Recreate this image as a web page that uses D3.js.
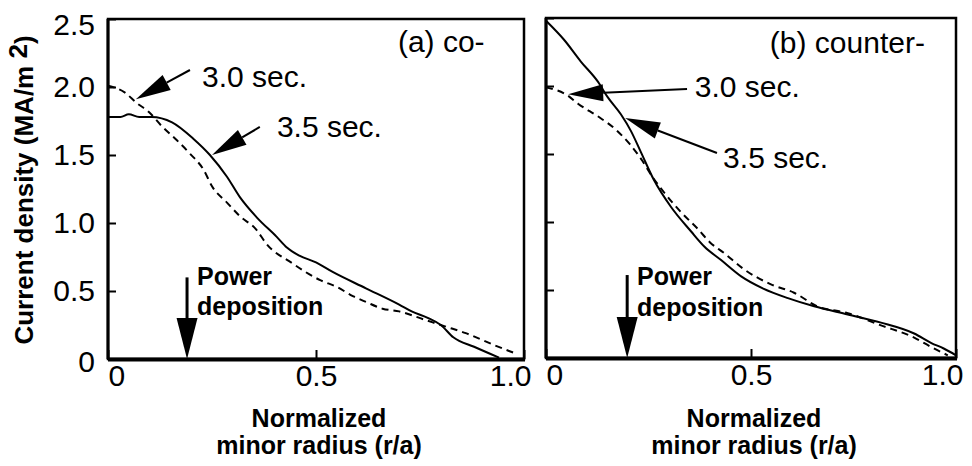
<!DOCTYPE html>
<html>
<head>
<meta charset="utf-8">
<script src="https://cdn.jsdelivr.net/npm/d3@7"></script>
<style>
  html, body { margin: 0; padding: 0; background: #fff; }
  svg { display: block; }
  text { font-family: "Liberation Sans", Arial, Helvetica, sans-serif; fill: #000; }
</style>
</head>
<body>
<svg id="chart" width="972" height="466"></svg>
<script>
// ---------------- DATA ----------------
// Panel (a) co- : 3.5 sec (solid)
const rCo35 = [0, 0.03, 0.05, 0.075, 0.105, 0.154, 0.205, 0.245, 0.286, 0.317, 0.358, 0.405, 0.43, 0.46, 0.5, 0.54, 0.62, 0.70, 0.73, 0.77, 0.80, 0.83, 0.88, 0.94];
const jCo35 = [1.78, 1.78, 1.80, 1.78, 1.78, 1.74, 1.62, 1.50, 1.34, 1.19, 1.04, 0.90, 0.82, 0.76, 0.71, 0.64, 0.52, 0.40, 0.35, 0.30, 0.25, 0.16, 0.09, 0.01];
// Panel (a) co- : 3.0 sec (dashed)
const rCo30 = [0, 0.04, 0.07, 0.097, 0.13, 0.165, 0.197, 0.23, 0.25, 0.286, 0.317, 0.357, 0.38, 0.44, 0.51, 0.55, 0.59, 0.62, 0.66, 0.70, 0.76, 0.81, 0.86, 0.93, 0.98];
const jCo30 = [2.01, 1.96, 1.88, 1.82, 1.71, 1.61, 1.51, 1.39, 1.27, 1.15, 1.05, 0.95, 0.85, 0.71, 0.58, 0.53, 0.46, 0.42, 0.37, 0.35, 0.29, 0.24, 0.19, 0.10, 0.04];
// Panel (b) counter- : 3.5 sec (solid)
const rCtr35 = [0, 0.044, 0.085, 0.127, 0.15, 0.183, 0.207, 0.232, 0.263, 0.305, 0.354, 0.386, 0.427, 0.476, 0.53, 0.59, 0.654, 0.736, 0.817, 0.898, 0.94, 0.97, 1.0];
const jCtr35 = [2.48, 2.34, 2.18, 2.03, 1.92, 1.79, 1.67, 1.51, 1.31, 1.11, 0.93, 0.82, 0.72, 0.60, 0.51, 0.44, 0.38, 0.32, 0.26, 0.18, 0.11, 0.07, 0.02];
// Panel (b) counter- : 3.0 sec (dashed)
const rCtr30 = [0, 0.053, 0.078, 0.13, 0.17, 0.205, 0.235, 0.26, 0.29, 0.33, 0.37, 0.40, 0.435, 0.484, 0.55, 0.605, 0.662, 0.736, 0.817, 0.898, 0.94, 0.98];
const jCtr30 = [1.99, 1.93, 1.87, 1.77, 1.68, 1.57, 1.45, 1.33, 1.21, 1.07, 0.95, 0.85, 0.77, 0.65, 0.54, 0.48, 0.38, 0.33, 0.24, 0.15, 0.08, 0.02];

const yTicks = [0, 0.5, 1.0, 1.5, 2.0, 2.5];
const yTickLabels = ["0", "0.5", "1.0", "1.5", "2.0", "2.5"];
const xTicks = [0, 0.5, 1.0];
const xTickLabels = ["0", "0.5", "1.0"];
const panelTitles = ["(a) co-", "(b) counter-"];
const yTitle = "Current density (MA/m ";
const xTitle1 = "Normalized";
const xTitle2 = "minor radius (r/a)";
const timeLabels = ["3.0 sec.", "3.5 sec."];
const powerLabels = ["Power", "deposition"];

// annotation anchors (data units: r, j)
const coAnno = {
  title: [0.697, 2.257],
  t30: { text: [0.226, 2.0], from: [0.197, 2.125], tip: [0.067, 1.91] },
  t35: { text: [0.406, 1.63], from: [0.365, 1.706], tip: [0.25, 1.50] },
  power: { r: 0.19, top: 0.60, text: [0.214, 0.544], text2: 0.32 }
};
const ctrAnno = {
  title: [0.546, 2.24],
  t30: { text: [0.363, 1.92], from: [0.344, 1.978], tip: [0.054, 1.94] },
  t35: { text: [0.432, 1.40], from: [0.417, 1.507], tip: [0.193, 1.765] },
  power: { r: 0.198, top: 0.61, text: [0.222, 0.537], text2: 0.31 }
};

// ---------------- DRAW ----------------
const svg = d3.select("#chart");

const panels = [
  { x0: 108, x1: 524, y0: 359, y1: 19, solid: [rCo35, jCo35], dashed: [rCo30, jCo30], anno: coAnno, title: panelTitles[0], yLabels: true },
  { x0: 546, x1: 956, y0: 358, y1: 18, solid: [rCtr35, jCtr35], dashed: [rCtr30, jCtr30], anno: ctrAnno, title: panelTitles[1], yLabels: false }
];

function arrow(g, S, T, L, w, sw) {
  const dx = T[0] - S[0], dy = T[1] - S[1];
  const len = Math.hypot(dx, dy);
  const ux = dx / len, uy = dy / len;
  const bx = T[0] - ux * L, by = T[1] - uy * L;
  const nx = -uy, ny = ux;
  g.append("line").attr("x1", S[0]).attr("y1", S[1]).attr("x2", bx).attr("y2", by)
    .attr("stroke", "#000").attr("stroke-width", sw);
  g.append("path")
    .attr("d", `M${T[0]},${T[1]}L${bx + nx * w},${by + ny * w}L${bx - nx * w},${by - ny * w}Z`)
    .attr("fill", "#000");
}

panels.forEach(p => {
  const x = d3.scaleLinear().domain([0, 1]).range([p.x0, p.x1]);
  const y = d3.scaleLinear().domain([0, 2.5]).range([p.y0, p.y1]);
  const g = svg.append("g");

  // y axis (inward ticks)
  const yAxis = d3.axisLeft(y).tickValues(yTicks).tickSize(-8).tickPadding(13)
    .tickFormat((d, i) => p.yLabels ? yTickLabels[i] : "");
  const ya = g.append("g").attr("transform", `translate(${p.x0},0)`).call(yAxis);
  ya.select(".domain").remove();
  ya.selectAll(".tick line").attr("stroke", "#000").attr("stroke-width", 2);
  ya.selectAll(".tick text").attr("font-size", 30).attr("font-family", null)
    .attr("y", d => d === 2.5 ? 6 : (d === 0 ? 3 : 0));

  // x axis (inward ticks)
  const xAxis = d3.axisBottom(x).tickValues(xTicks).tickSize(-9).tickPadding(6)
    .tickFormat((d, i) => xTickLabels[i]);
  const xa = g.append("g").attr("transform", `translate(0,${p.y0})`).call(xAxis);
  xa.select(".domain").remove();
  xa.selectAll(".tick line").attr("stroke", "#000").attr("stroke-width", 2);
  xa.selectAll(".tick text").attr("font-size", 30).attr("font-family", null)
    .attr("text-anchor", d => d === 0 ? "start" : (d === 1 ? "end" : "middle"))
    .attr("x", d => d === 1 ? 7 : 0);

  // frame
  g.append("rect").attr("x", p.x0).attr("y", p.y1).attr("width", p.x1 - p.x0).attr("height", p.y0 - p.y1)
    .attr("fill", "none").attr("stroke", "#000").attr("stroke-width", 2.5);
  g.append("line").attr("x1", p.x0).attr("x2", p.x1 + 1).attr("y1", p.y0 + 0.5).attr("y2", p.y0 + 0.5)
    .attr("stroke", "#000").attr("stroke-width", 4);
  g.append("line").attr("x1", p.x0).attr("x2", p.x0).attr("y1", p.y1).attr("y2", p.y0)
    .attr("stroke", "#000").attr("stroke-width", 3);

  // curves
  const line = d3.line().x(d => x(d[0])).y(d => y(d[1])).curve(d3.curveMonotoneX);
  const solidData = p.solid[0].map((r, i) => [r, p.solid[1][i]]);
  const dashedData = p.dashed[0].map((r, i) => [r, p.dashed[1][i]]);
  g.append("path").datum(dashedData).attr("d", line).attr("fill", "none")
    .attr("stroke", "#000").attr("stroke-width", 2).attr("stroke-dasharray", "7,5");
  g.append("path").datum(solidData).attr("d", line).attr("fill", "none")
    .attr("stroke", "#000").attr("stroke-width", 2);

  const a = p.anno;
  // panel title
  g.append("text").attr("x", x(a.title[0])).attr("y", y(a.title[1]))
    .attr("font-size", 30).text(p.title);

  // time annotations
  [["t30", 0], ["t35", 1]].forEach(([k, i]) => {
    const t = a[k];
    g.append("text").attr("x", x(t.text[0])).attr("y", y(t.text[1]))
      .attr("font-size", 30).text(timeLabels[i]);
    arrow(g, [x(t.from[0]), y(t.from[1])], [x(t.tip[0]), y(t.tip[1])], 35, 8.5, 2);
  });

  // power deposition arrow
  arrow(g, [x(a.power.r), y(a.power.top)], [x(a.power.r), y(0)], 41, 10.5, 3);
  g.append("text").attr("x", x(a.power.text[0])).attr("y", y(a.power.text[1]))
    .attr("font-size", 25).attr("font-weight", "bold").text(powerLabels[0]);
  g.append("text").attr("x", x(a.power.text[0])).attr("y", y(a.power.text2))
    .attr("font-size", 25).attr("font-weight", "bold").text(powerLabels[1]);

  // x title
  const cx = (p.x0 + p.x1) / 2;
  g.append("text").attr("x", cx + 3).attr("y", 427).attr("text-anchor", "middle")
    .attr("font-size", 25).attr("font-weight", "bold").text(xTitle1);
  g.append("text").attr("x", cx + 3).attr("y", 454).attr("text-anchor", "middle")
    .attr("font-size", 25).attr("font-weight", "bold").text(xTitle2);
});

// y title
const yt = svg.append("text").attr("transform", "translate(33,190) rotate(-90)")
  .attr("text-anchor", "middle").attr("font-size", 26).attr("font-weight", "bold");
yt.append("tspan").text(yTitle);
yt.append("tspan").attr("dy", -6).text("2");
yt.append("tspan").attr("dy", 6).text(")");
</script>
</body>
</html>
